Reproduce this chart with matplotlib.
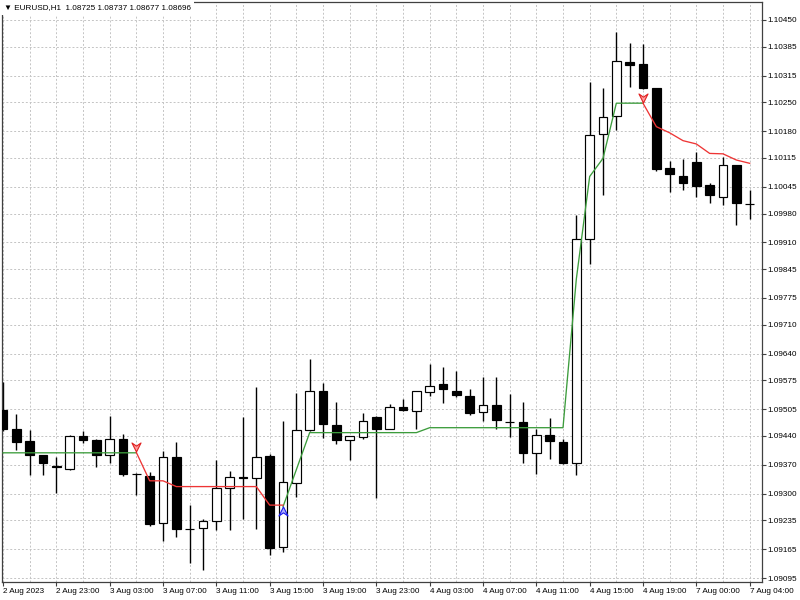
import numpy as np
import matplotlib

matplotlib.use('Agg')
import matplotlib.pyplot as plt
from matplotlib.path import Path

# EURUSD H1, 2 Aug 19:00 .. 7 Aug 04:00
opens = [1.09503, 1.09458, 1.09428, 1.09393, 1.09366, 1.09360, 1.09441, 1.09430, 1.09393, 1.09432,
         1.09348, 1.09343, 1.09229, 1.09388, 1.09214, 1.09217, 1.09234, 1.09314, 1.09340, 1.09338,
         1.09391, 1.09171, 1.09326, 1.09454, 1.09549, 1.09466, 1.09430, 1.09437, 1.09487, 1.09458,
         1.09510, 1.09501, 1.09547, 1.09565, 1.09550, 1.09538, 1.09498, 1.09516, 1.09474, 1.09474,
         1.09399, 1.09442, 1.09425, 1.09374, 1.09919, 1.10172, 1.10217, 1.10348, 1.10343, 1.10284,
         1.10090, 1.10070, 1.10105, 1.10049, 1.10019, 1.10097, 1.10003]
highs = [1.09571, 1.09493, 1.09454, 1.09394, 1.09390, 1.09442, 1.09453, 1.09433, 1.09488, 1.09445,
         1.09350, 1.09353, 1.09404, 1.09425, 1.09272, 1.09238, 1.09382, 1.09354, 1.09485, 1.09558,
         1.09396, 1.09476, 1.09545, 1.09626, 1.09568, 1.09522, 1.09441, 1.09496, 1.09488, 1.09518,
         1.09529, 1.09550, 1.09615, 1.09608, 1.09598, 1.09553, 1.09582, 1.09582, 1.09542, 1.09523,
         1.09456, 1.09484, 1.09432, 1.09976, 1.10300, 1.10284, 1.10421, 1.10395, 1.10392, 1.10284,
         1.10108, 1.10112, 1.10129, 1.10053, 1.10118, 1.10097, 1.10036]
lows = [1.09452, 1.09406, 1.09344, 1.09346, 1.09301, 1.09357, 1.09424, 1.09365, 1.09374, 1.09343,
        1.09297, 1.09221, 1.09186, 1.09195, 1.09131, 1.09114, 1.09212, 1.09212, 1.09238, 1.09214,
        1.09151, 1.09159, 1.09292, 1.09452, 1.09434, 1.09420, 1.09382, 1.09433, 1.09289, 1.09457,
        1.09501, 1.09456, 1.09537, 1.09521, 1.09534, 1.09491, 1.09476, 1.09458, 1.09438, 1.09374,
        1.09348, 1.09385, 1.09373, 1.09345, 1.09857, 1.10025, 1.10183, 1.10288, 1.10282, 1.10084,
        1.10033, 1.10036, 1.10019, 1.10006, 1.10001, 1.09952, 1.09966]
closes = [1.09457, 1.09425, 1.09393, 1.09375, 1.09365, 1.09441, 1.09430, 1.09394, 1.09432, 1.09348,
          1.09347, 1.09226, 1.09390, 1.09213, 1.09213, 1.09233, 1.09314, 1.09341, 1.09339, 1.09390,
          1.09168, 1.09328, 1.09454, 1.09549, 1.09469, 1.09430, 1.09439, 1.09476, 1.09458, 1.09510,
          1.09503, 1.09550, 1.09561, 1.09553, 1.09539, 1.09496, 1.09514, 1.09479, 1.09473, 1.09399,
          1.09443, 1.09428, 1.09375, 1.09917, 1.10170, 1.10215, 1.10350, 1.10340, 1.10284, 1.10087,
          1.10075, 1.10055, 1.10047, 1.10025, 1.10097, 1.10005, 1.10002]

nan = np.nan
# trailing line: green while bullish, red while bearish
green_line = [1.09399] * 11 + [nan] * 10 + [1.09268, 1.09358] + [1.09448] * 9 + [1.09460] * 11 \
    + [1.09821, 1.10070, 1.10114, 1.10248, 1.10248, 1.10248] + [nan] * 8
red_line = [nan] * 10 + [1.09400, 1.09331, 1.09331] + [1.09317] * 7 + [1.09272, 1.09272] + [nan] * 26 \
    + [1.10248, 1.10191, 1.10176, 1.10157, 1.10149, 1.10126, 1.10125, 1.10110, 1.10102]

sell_bars = [10, 48]
sell_prices = [1.09413, 1.10261]
buy_bars = [21]
buy_prices = [1.09258]

x_labels = ['2 Aug 2023', '2 Aug 23:00', '3 Aug 03:00', '3 Aug 07:00', '3 Aug 11:00', '3 Aug 15:00',
            '3 Aug 19:00', '3 Aug 23:00', '4 Aug 03:00', '4 Aug 07:00', '4 Aug 11:00', '4 Aug 15:00',
            '4 Aug 19:00', '7 Aug 00:00', '7 Aug 04:00']
y_labels = ['1.09095', '1.09165', '1.09235', '1.09300', '1.09370', '1.09440', '1.09505', '1.09575',
            '1.09640', '1.09710', '1.09775', '1.09845', '1.09910', '1.09980', '1.10045', '1.10115',
            '1.10180', '1.10250', '1.10315', '1.10385', '1.10450']

plt.rcParams['font.family'] = ['Liberation Sans', 'DejaVu Sans']

fig = plt.figure(figsize=(8, 6), dpi=100)
ax = fig.add_axes([2 / 800, 18 / 600, 760 / 800, 580 / 600])

o = np.array(opens)
h = np.array(highs)
l = np.array(lows)
c = np.array(closes)
x = np.arange(len(o))
up = c >= o

# grid: every price tick, every 2nd bar
for gx in x[::2]:
    ax.axvline(gx, color='#c4c4c4', lw=0.7, ls=(0, (2, 2)), zorder=0)
ax.set_yticks([float(s) for s in y_labels])
ax.set_yticklabels(y_labels)
ax.grid(axis='y', color='#c4c4c4', lw=0.7, ls=(0, (2, 2)), zorder=0)
ax.set_axisbelow(True)

ax.vlines(x, l, h, color='black', lw=1.0, zorder=2)
ax.bar(x, c - o, bottom=o, width=0.66, color=np.where(up, 'white', 'black'),
       edgecolor='black', lw=0.85, zorder=3)

ax.plot(x, green_line, color='#3c9c3c', lw=0.95, zorder=4)
ax.plot(x, red_line, color='#ee3535', lw=0.95, zorder=4)

down_arrow = Path([(-1, 1), (0, -1), (1, 1), (0, 0.3), (-1, 1)],
                  [Path.MOVETO, Path.LINETO, Path.LINETO, Path.LINETO, Path.CLOSEPOLY])
up_arrow = Path([(-1, -1), (0, 1), (1, -1), (0, -0.3), (-1, -1)],
                [Path.MOVETO, Path.LINETO, Path.LINETO, Path.LINETO, Path.CLOSEPOLY])
ax.plot(sell_bars, sell_prices, ls='none', marker=down_arrow, ms=6.5,
        mfc='#ff9c9c', mec='#e02020', mew=0.8, zorder=5)
ax.plot(buy_bars, buy_prices, ls='none', marker=up_arrow, ms=6.5,
        mfc='#b0b0ff', mec='#1a1aee', mew=0.8, zorder=5)

ax.set_xlim(-0.075, 56.925)
ax.set_ylim(1.090853, 1.104937)

ax.set_xticks(x[::4])
ax.set_xticklabels(x_labels, ha='left')
ax.yaxis.tick_right()
ax.tick_params(axis='y', direction='out', length=3, width=0.8, pad=1, labelsize=5.9, color='#404040')
ax.tick_params(axis='x', direction='out', length=3, width=0.8, pad=1.5, labelsize=5.9, color='#404040')
for s in ax.spines.values():
    s.set_color('#404040')
    s.set_linewidth(0.9)

fig.text(4 / 800, 1 - 8 / 600, '\u25bc EURUSD,H1  1.08725 1.08737 1.08677 1.08696',
         fontsize=5.9, va='center', ha='left',
         bbox=dict(facecolor='white', edgecolor='none', pad=2.5))

fig.savefig('out.png', dpi=100, facecolor='white')
plt.close(fig)
